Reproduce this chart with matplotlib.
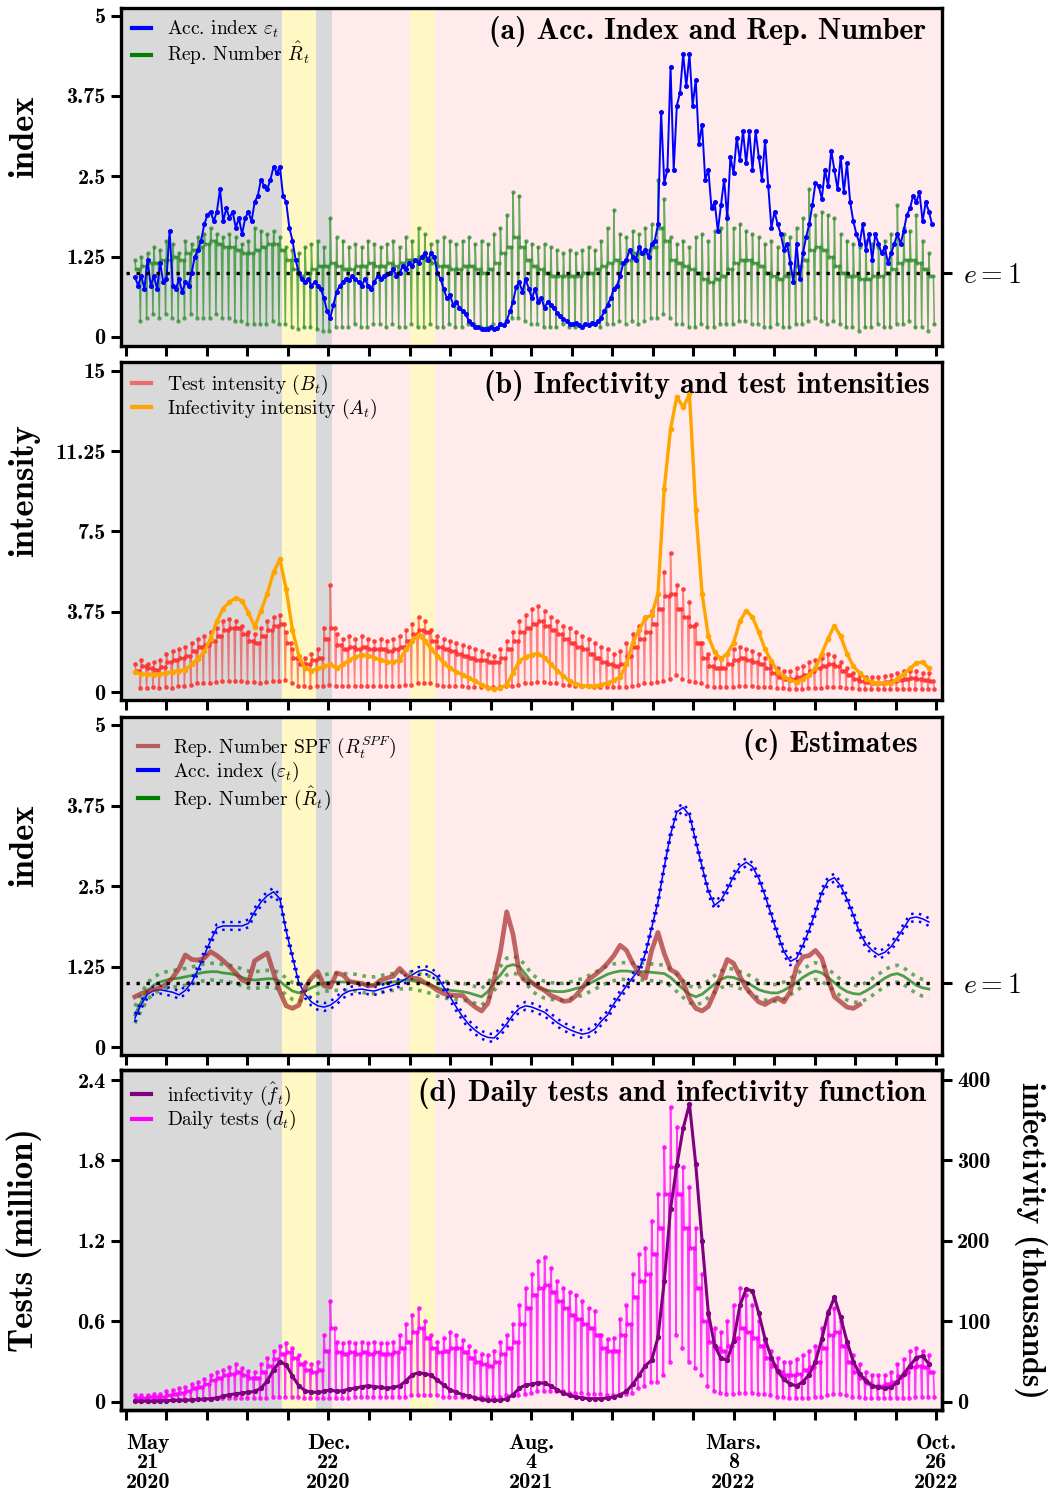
import numpy as np
import matplotlib
matplotlib.use("Agg")
import matplotlib.pyplot as plt
from matplotlib.lines import Line2D

plt.rcParams['font.family'] = ['cmr10', 'DejaVu Serif']
plt.rcParams['mathtext.fontset'] = 'cm'
plt.rcParams['axes.unicode_minus'] = False
plt.rcParams['axes.formatter.use_mathtext'] = True
BOLD = 'cmb10'

# ---------------- data (days since 21 May 2020) ----------------
tick_days = [-10 + 45 * k for k in range(21)]
tick_text = ['May\n21\n2020', 'Dec.\n22\n2020', 'Aug.\n4\n2021', 'Mars.\n8\n2022', 'Oct.\n26\n2022']
periods = [(-15.5, 163, 'gray'), (163, 201, 'yellow'), (201, 219, 'gray'),
           (219, 306, 'pink'), (306, 333, 'yellow'), (333, 896.5, 'pink')]

# (a) accumulation index, one value every half week
acc_index = [0.93, 0.8, 0.95, 0.75, 1.2, 0.8, 0.95, 0.75, 1.15, 0.85,
             0.9, 1.65, 0.8, 0.75, 0.9, 0.7, 0.85, 0.8, 1.0, 1.25,
             1.35, 1.5, 1.75, 1.9, 1.95, 1.8, 1.95, 2.3, 1.8, 2.0,
             1.85, 1.95, 1.7, 1.85, 1.6, 1.85, 1.95, 1.8, 2.1, 2.2,
             2.45, 2.35, 2.3, 2.45, 2.65, 2.55, 2.65, 2.2, 2.1, 1.7,
             1.5, 1.2, 1.0, 0.9, 0.85, 0.9, 0.8, 0.85, 0.8, 0.75,
             0.6, 0.4, 0.3, 0.5, 0.7, 0.8, 0.85, 0.9, 0.88, 0.95,
             0.9, 0.85, 0.8, 0.9, 0.8, 0.75, 0.85, 0.95, 0.9, 0.95,
             0.98, 1.0, 1.05, 0.95, 1.0, 1.1, 1.05, 1.15, 1.1, 1.2,
             1.15, 1.25, 1.3, 1.2, 1.3, 1.25, 1.0, 0.9, 0.75, 0.6,
             0.65, 0.5, 0.55, 0.45, 0.4, 0.35, 0.25, 0.2, 0.15, 0.15,
             0.12, 0.13, 0.12, 0.15, 0.13, 0.14, 0.2, 0.18, 0.25, 0.4,
             0.55, 0.78, 0.85, 0.7, 0.9, 0.75, 0.6, 0.75, 0.55, 0.6,
             0.45, 0.55, 0.5, 0.45, 0.38, 0.32, 0.28, 0.25, 0.2, 0.2,
             0.22, 0.18, 0.16, 0.2, 0.18, 0.22, 0.2, 0.25, 0.3, 0.4,
             0.5, 0.6, 0.75, 0.8, 0.95, 1.15, 1.2, 1.35, 1.25, 1.2,
             1.4, 1.3, 1.35, 1.25, 1.45, 1.5, 1.75, 3.5, 2.4, 2.6,
             4.2, 2.6, 3.6, 3.8, 4.4, 3.9, 4.4, 3.6, 4.0, 3.0,
             3.3, 2.45, 2.6, 2.0, 2.1, 1.65, 2.05, 2.45, 1.85, 2.8,
             2.55, 3.1, 2.75, 3.2, 2.7, 3.2, 2.6, 3.2, 2.8, 2.45,
             3.05, 2.35, 1.7, 1.95, 1.75, 1.6, 1.35, 1.45, 1.15, 0.85,
             1.45, 0.9, 1.3, 1.55, 1.75, 2.05, 2.4, 2.35, 2.15, 2.6,
             2.35, 2.9, 2.6, 2.3, 2.8, 2.25, 2.7, 2.1, 1.8, 1.6,
             1.45, 1.75, 1.35, 1.6, 1.2, 1.6, 1.45, 1.3, 1.4, 1.15,
             1.3, 1.45, 1.6, 1.45, 1.65, 1.9, 2.0, 2.2, 2.1, 2.25,
             1.8, 2.1, 1.95, 1.75]

# (a) reproduction number, weekly peak / usual level / dip
rep_peak = [1.2, 1.25, 1.3, 1.4, 1.35, 1.5, 1.45, 1.3, 1.5, 1.45,
            1.55, 1.6, 1.7, 1.6, 1.55, 1.6, 1.55, 1.45, 1.5, 1.7,
            1.65, 1.6, 1.65, 1.55, 1.4, 1.35, 1.3, 1.4, 1.45, 1.5,
            1.4, 1.85, 1.55, 1.5, 1.4, 1.45, 1.4, 1.5, 1.45, 1.4,
            1.45, 1.5, 1.4, 1.55, 1.5, 1.7, 1.6, 1.45, 1.5, 1.55,
            1.5, 1.45, 1.5, 1.55, 1.45, 1.5, 1.45, 1.6, 1.7, 1.9,
            2.25, 2.2, 1.5, 1.45, 1.4, 1.45, 1.4, 1.35, 1.3, 1.35,
            1.3, 1.35, 1.4, 1.35, 1.5, 1.7, 1.98, 1.6, 1.55, 1.65,
            1.6, 1.7, 1.75, 2.45, 2.15, 1.55, 1.45, 1.5, 1.4, 1.55,
            1.6, 1.5, 1.65, 1.7, 1.9, 1.7, 1.75, 1.65, 1.6, 1.55,
            1.45, 1.5, 1.4, 1.6, 1.55, 1.7, 1.85, 2.3, 1.9, 1.95,
            1.9, 1.85, 1.6, 1.5, 1.45, 1.4, 1.5, 1.45, 1.4, 1.5,
            1.6, 2.05, 1.7, 1.65, 1.9, 1.5, 1.3]
rep_level = [1.05, 1.1, 1.15, 1.15, 1.2, 1.2, 1.25, 1.2, 1.3, 1.35,
             1.4, 1.45, 1.5, 1.45, 1.4, 1.4, 1.35, 1.3, 1.3, 1.35,
             1.4, 1.45, 1.45, 1.35, 1.2, 1.05, 0.95, 1.0, 1.05, 1.1,
             1.1, 1.15, 1.1, 1.05, 1.05, 1.1, 1.1, 1.15, 1.1, 1.1,
             1.15, 1.1, 1.15, 1.2, 1.2, 1.25, 1.2, 1.15, 1.1, 1.1,
             1.05, 1.05, 1.1, 1.1, 1.05, 1.0, 1.05, 1.15, 1.3, 1.4,
             1.55, 1.4, 1.2, 1.1, 1.05, 1.0, 0.95, 0.95, 0.95, 0.95,
             0.95, 1.0, 1.0, 1.05, 1.1, 1.15, 1.2, 1.15, 1.2, 1.3,
             1.3, 1.35, 1.4, 1.7, 1.5, 1.2, 1.15, 1.1, 1.05, 1.0,
             0.9, 0.85, 0.9, 0.95, 1.05, 1.15, 1.2, 1.2, 1.15, 1.1,
             1.0, 0.95, 0.9, 0.95, 1.0, 1.1, 1.2, 1.35, 1.4, 1.35,
             1.25, 1.1, 1.0, 0.95, 0.95, 0.9, 0.9, 0.95, 0.95, 1.0,
             1.05, 1.15, 1.2, 1.2, 1.15, 1.05, 0.95]
rep_dip = [0.25, 0.3, 0.35, 0.3, 0.35, 0.3, 0.25, 0.3, 0.35, 0.3,
           0.3, 0.3, 0.35, 0.3, 0.3, 0.25, 0.25, 0.2, 0.2, 0.2,
           0.2, 0.25, 0.2, 0.2, 0.15, 0.12, 0.15, 0.15, 0.12, 0.1,
           0.1, 0.15, 0.15, 0.15, 0.2, 0.15, 0.15, 0.2, 0.2, 0.15,
           0.2, 0.15, 0.15, 0.2, 0.15, 0.15, 0.2, 0.15, 0.15, 0.2,
           0.15, 0.15, 0.2, 0.2, 0.15, 0.15, 0.2, 0.2, 0.25, 0.3,
           0.3, 0.25, 0.2, 0.2, 0.15, 0.15, 0.15, 0.2, 0.15, 0.15,
           0.15, 0.2, 0.2, 0.15, 0.2, 0.2, 0.25, 0.2, 0.25, 0.2,
           0.25, 0.3, 0.3, 0.35, 0.3, 0.2, 0.2, 0.15, 0.15, 0.2,
           0.15, 0.15, 0.2, 0.2, 0.2, 0.25, 0.25, 0.2, 0.2, 0.15,
           0.15, 0.2, 0.15, 0.15, 0.2, 0.2, 0.25, 0.3, 0.25, 0.2,
           0.25, 0.2, 0.15, 0.15, 0.1, 0.15, 0.15, 0.2, 0.15, 0.15,
           0.2, 0.2, 0.25, 0.15, 0.15, 0.1, 0.2]

# (b) test intensity, weekly peak / level / dip
test_peak = [1.3, 1.5, 1.3, 1.4, 1.5, 1.8, 1.9, 2.0, 2.1, 2.3,
             2.5, 2.6, 2.8, 3.0, 3.3, 3.4, 3.3, 3.1, 2.8, 2.7,
             3.0, 3.3, 3.5, 3.6, 2.8, 2.0, 1.7, 1.6, 1.8, 2.0,
             3.0, 5.0, 2.7, 2.5, 2.6, 2.5, 2.6, 2.5, 2.4, 2.5,
             2.4, 2.5, 2.6, 2.9, 3.2, 3.5, 3.3, 2.9, 2.6, 2.5,
             2.4, 2.3, 2.2, 2.1, 2.0, 1.9, 1.8, 1.7, 2.0, 2.4,
             2.8, 3.3, 3.6, 3.9, 4.0, 3.8, 3.5, 3.3, 3.1, 3.0,
             2.8, 2.6, 2.5, 2.3, 2.1, 2.0, 1.8, 1.9, 2.3, 2.7,
             3.1, 3.5, 3.8, 4.6, 5.6, 6.5, 5.0, 4.8, 4.2, 3.2,
             2.3, 1.8, 1.6, 1.6, 1.8, 2.0, 2.1, 2.0, 1.9, 1.8,
             1.6, 1.3, 1.1, 1.0, 1.0, 1.1, 1.2, 1.4, 1.5, 1.6,
             1.8, 1.7, 1.4, 1.1, 0.9, 0.8, 0.7, 0.7, 0.7, 0.75,
             0.8, 0.9, 1.0, 1.0, 1.0, 0.9, 0.9]
test_level = [1.0, 1.2, 1.1, 1.05, 1.15, 1.4, 1.5, 1.6, 1.7, 1.9,
              2.1, 2.2, 2.4, 2.6, 2.9, 3.0, 3.0, 2.7, 2.4, 2.3,
              2.6, 2.9, 3.1, 3.2, 2.3, 1.6, 1.3, 1.3, 1.5, 1.6,
              2.5, 3.0, 2.2, 2.0, 2.1, 2.0, 2.1, 2.0, 2.0, 2.0,
              1.9, 2.0, 2.1, 2.4, 2.7, 2.9, 2.8, 2.4, 2.1, 2.0,
              1.9, 1.8, 1.7, 1.6, 1.5, 1.5, 1.4, 1.4, 1.6, 2.0,
              2.4, 2.8, 3.0, 3.2, 3.3, 3.1, 2.9, 2.7, 2.5, 2.3,
              2.1, 2.0, 1.8, 1.6, 1.4, 1.3, 1.2, 1.3, 1.7, 2.1,
              2.5, 2.8, 3.2, 3.9, 4.5, 4.6, 3.9, 3.5, 3.1, 2.3,
              1.6, 1.2, 1.1, 1.1, 1.3, 1.5, 1.6, 1.5, 1.4, 1.3,
              1.1, 0.9, 0.7, 0.6, 0.6, 0.7, 0.8, 1.0, 1.1, 1.2,
              1.3, 1.2, 1.0, 0.8, 0.6, 0.5, 0.45, 0.4, 0.4, 0.45,
              0.5, 0.55, 0.6, 0.65, 0.6, 0.55, 0.5]
test_dip = [0.2, 0.2, 0.25, 0.2, 0.25, 0.2, 0.3, 0.3, 0.35, 0.4,
            0.4, 0.4, 0.45, 0.5, 0.5, 0.5, 0.5, 0.45, 0.45, 0.4,
            0.45, 0.5, 0.5, 0.55, 0.4, 0.3, 0.3, 0.25, 0.3, 0.3,
            0.35, 0.3, 0.3, 0.3, 0.3, 0.3, 0.3, 0.3, 0.3, 0.3,
            0.3, 0.3, 0.35, 0.35, 0.4, 0.4, 0.4, 0.35, 0.3, 0.3,
            0.3, 0.3, 0.25, 0.25, 0.25, 0.25, 0.25, 0.25, 0.3, 0.3,
            0.35, 0.4, 0.4, 0.45, 0.45, 0.4, 0.4, 0.35, 0.35, 0.3,
            0.3, 0.3, 0.25, 0.25, 0.25, 0.25, 0.25, 0.25, 0.3, 0.35,
            0.4, 0.4, 0.45, 0.5, 0.6, 0.8, 0.6, 0.5, 0.45, 0.4,
            0.3, 0.25, 0.25, 0.25, 0.25, 0.3, 0.3, 0.3, 0.25, 0.25,
            0.25, 0.2, 0.2, 0.15, 0.15, 0.15, 0.2, 0.2, 0.2, 0.25,
            0.25, 0.25, 0.2, 0.2, 0.15, 0.15, 0.12, 0.12, 0.12, 0.12,
            0.15, 0.15, 0.15, 0.15, 0.15, 0.15, 0.15]

# (b) infectivity intensity, weekly
infect_int = [0.93, 0.85, 0.82, 0.8, 0.85, 0.9, 0.95, 1.0, 1.05, 1.3,
              1.55, 1.9, 2.5, 3.3, 3.9, 4.2, 4.4, 4.25, 3.7, 3.05,
              3.8, 4.6, 5.6, 6.2, 4.8, 2.9, 1.7, 1.1, 1.0, 1.1,
              1.2, 1.3, 1.1, 1.3, 1.5, 1.65, 1.72, 1.7, 1.6, 1.5,
              1.4, 1.4, 1.5, 2.0, 2.4, 2.65, 2.4, 2.0, 1.7, 1.35,
              1.1, 0.95, 0.8, 0.65, 0.5, 0.35, 0.2, 0.15, 0.2, 0.35,
              0.9, 1.45, 1.65, 1.75, 1.8, 1.6, 1.3, 1.0, 0.75, 0.5,
              0.38, 0.3, 0.28, 0.28, 0.35, 0.42, 0.55, 0.7, 1.3, 2.3,
              2.9, 3.45, 3.6, 4.6, 9.5, 12.3, 13.8, 13.3, 13.9, 8.5,
              4.6, 2.6, 1.85, 1.55, 1.8, 2.3, 3.3, 3.8, 3.5, 2.8,
              2.0, 1.45, 0.95, 0.7, 0.55, 0.47, 0.6, 0.8, 1.1, 1.8,
              2.5, 3.1, 2.6, 1.8, 1.2, 0.9, 0.6, 0.45, 0.42, 0.42,
              0.42, 0.6, 0.85, 1.1, 1.35, 1.4, 1.1]

# (c) smoothed estimates, weekly
est_acc = [0.45, 0.66, 0.82, 0.88, 0.89, 0.87, 0.85, 0.81, 0.88, 1.0,
           1.2, 1.43, 1.65, 1.85, 1.88, 1.88, 1.88, 1.88, 1.92, 2.1,
           2.25, 2.35, 2.41, 2.3, 1.8, 1.4, 1.0, 0.82, 0.7, 0.64,
           0.62, 0.65, 0.72, 0.82, 0.87, 0.89, 0.9, 0.88, 0.87, 0.9,
           0.93, 0.96, 1.0, 1.06, 1.12, 1.18, 1.2, 1.16, 1.09, 0.93,
           0.78, 0.62, 0.47, 0.35, 0.26, 0.19, 0.15, 0.14, 0.24, 0.36,
           0.5, 0.6, 0.64, 0.62, 0.58, 0.54, 0.46, 0.38, 0.32, 0.27,
           0.23, 0.2, 0.22, 0.28, 0.4, 0.5, 0.67, 0.81, 0.95, 1.08,
           1.2, 1.45, 1.85, 2.25, 2.8, 3.3, 3.65, 3.72, 3.6, 3.2,
           2.8, 2.42, 2.2, 2.28, 2.45, 2.65, 2.8, 2.87, 2.8, 2.62,
           2.35, 2.05, 1.75, 1.48, 1.33, 1.38, 1.58, 1.82, 2.1, 2.4,
           2.58, 2.63, 2.5, 2.3, 2.05, 1.78, 1.6, 1.5, 1.43, 1.47,
           1.56, 1.7, 1.85, 2.0, 2.02, 1.99, 1.94]
est_acc_halfwidth = 0.06
est_rep = [0.5, 0.7, 0.87, 0.96, 1.01, 1.04, 1.06, 1.07, 1.09, 1.11,
           1.14, 1.16, 1.17, 1.17, 1.15, 1.14, 1.12, 1.08, 1.05, 1.04,
           1.05, 1.06, 1.06, 1.02, 0.94, 0.87, 0.84, 0.87, 0.92, 0.96,
           0.99, 1.01, 1.01, 1.01, 1.01, 1.0, 0.98, 0.96, 0.96, 0.98,
           1.0, 1.01, 1.03, 1.04, 1.03, 1.01, 0.99, 0.96, 0.92, 0.89,
           0.88, 0.87, 0.86, 0.84, 0.81, 0.78, 0.86, 1.01, 1.12, 1.25,
           1.28, 1.25, 1.13, 1.0, 0.93, 0.89, 0.87, 0.86, 0.86, 0.88,
           0.91, 0.93, 0.98, 1.03, 1.08, 1.13, 1.16, 1.18, 1.18, 1.17,
           1.17, 1.17, 1.16, 1.15, 1.14, 1.08, 0.99, 0.9, 0.82, 0.78,
           0.82, 0.9, 0.98, 1.05, 1.09, 1.08, 1.04, 1.01, 0.95, 0.89,
           0.86, 0.84, 0.84, 0.88, 0.94, 1.0, 1.08, 1.14, 1.18, 1.15,
           1.08, 1.0, 0.92, 0.86, 0.83, 0.82, 0.87, 0.93, 1.0, 1.07,
           1.12, 1.14, 1.1, 1.03, 0.96, 0.92, 0.9]
est_rep_halfwidth = 0.13
est_spf = [0.78, 0.83, 0.87, 0.89, 0.92, 0.98, 1.08, 1.22, 1.43, 1.36,
           1.35, 1.38, 1.48, 1.42, 1.34, 1.25, 1.15, 1.04, 1.0, 1.34,
           1.4, 1.46, 1.15, 0.86, 0.64, 0.6, 0.65, 0.92, 1.07, 1.17,
           0.95, 0.93, 1.15, 1.12, 1.02, 1.0, 0.99, 0.95, 0.96, 1.04,
           1.07, 1.1, 1.22, 1.12, 1.07, 1.06, 1.0, 0.95, 0.88, 0.83,
           0.81, 0.8, 0.8, 0.7, 0.62, 0.56, 0.68, 1.05, 1.48, 2.1,
           1.75, 1.15, 1.03, 1.0, 0.93, 0.88, 0.8, 0.76, 0.71, 0.72,
           0.8, 0.92, 1.05, 1.12, 1.2, 1.3, 1.42, 1.58, 1.5, 1.3,
           1.15, 1.07, 1.5, 1.78, 1.45, 1.2, 1.15, 1.0, 0.75, 0.6,
           0.56, 0.63, 0.85, 1.1, 1.36, 1.3, 1.1, 0.92, 0.8, 0.7,
           0.66, 0.72, 0.76, 0.7, 0.86, 1.25, 1.4, 1.42, 1.5, 1.38,
           1.05, 0.78, 0.7, 0.62, 0.6, 0.66]

# (d) daily tests (million), weekly peak / level / dip
tests_peak = [0.05, 0.05, 0.05, 0.06, 0.06, 0.08, 0.09, 0.1, 0.11, 0.13,
              0.15, 0.17, 0.2, 0.22, 0.24, 0.26, 0.28, 0.25, 0.23, 0.22,
              0.28, 0.33, 0.38, 0.42, 0.44, 0.4, 0.35, 0.3, 0.28, 0.3,
              0.5, 0.75, 0.45, 0.44, 0.45, 0.44, 0.45, 0.44, 0.45, 0.44,
              0.44, 0.45, 0.5, 0.58, 0.65, 0.7, 0.6, 0.5, 0.45, 0.48,
              0.52, 0.5, 0.46, 0.42, 0.38, 0.36, 0.35, 0.38, 0.45, 0.5,
              0.58, 0.72, 0.85, 0.95, 1.05, 1.08, 1.0, 0.9, 0.85, 0.82,
              0.8, 0.75, 0.7, 0.68, 0.5, 0.47, 0.48, 0.62, 0.72, 0.95,
              1.1, 1.15, 1.35, 1.55, 1.9, 2.2, 2.05, 1.75, 1.6, 1.3,
              0.95, 0.65, 0.55, 0.52, 0.6, 0.72, 0.85, 0.8, 0.72, 0.6,
              0.45, 0.38, 0.33, 0.3, 0.3, 0.32, 0.35, 0.38, 0.42, 0.55,
              0.68, 0.7, 0.6, 0.45, 0.35, 0.28, 0.22, 0.2, 0.2, 0.2,
              0.22, 0.28, 0.32, 0.38, 0.4, 0.38, 0.35]
tests_level = [0.03, 0.03, 0.035, 0.04, 0.04, 0.05, 0.06, 0.07, 0.08, 0.1,
               0.11, 0.13, 0.16, 0.18, 0.2, 0.21, 0.22, 0.2, 0.18, 0.18,
               0.22, 0.27, 0.32, 0.36, 0.37, 0.33, 0.28, 0.24, 0.22, 0.24,
               0.38, 0.55, 0.37, 0.36, 0.37, 0.36, 0.37, 0.36, 0.37, 0.36,
               0.36, 0.37, 0.4, 0.45, 0.52, 0.55, 0.48, 0.4, 0.37, 0.38,
               0.4, 0.4, 0.37, 0.33, 0.3, 0.28, 0.27, 0.3, 0.36, 0.4,
               0.45, 0.58, 0.7, 0.8, 0.85, 0.87, 0.82, 0.75, 0.7, 0.65,
               0.62, 0.58, 0.55, 0.5, 0.4, 0.38, 0.38, 0.5, 0.58, 0.78,
               0.9, 0.95, 1.1, 1.3, 1.55, 1.75, 1.55, 1.3, 1.15, 0.85,
               0.6, 0.45, 0.4, 0.38, 0.42, 0.48, 0.55, 0.52, 0.48, 0.42,
               0.33, 0.27, 0.22, 0.2, 0.2, 0.21, 0.24, 0.26, 0.3, 0.4,
               0.5, 0.52, 0.42, 0.3, 0.22, 0.18, 0.14, 0.12, 0.12, 0.13,
               0.15, 0.19, 0.22, 0.26, 0.27, 0.26, 0.22]
tests_dip = [0.01, 0.01, 0.01, 0.01, 0.01, 0.015, 0.015, 0.02, 0.02, 0.02,
             0.02, 0.02, 0.03, 0.03, 0.03, 0.03, 0.03, 0.03, 0.03, 0.03,
             0.03, 0.04, 0.04, 0.04, 0.04, 0.04, 0.03, 0.03, 0.03, 0.03,
             0.03, 0.03, 0.03, 0.03, 0.04, 0.04, 0.04, 0.04, 0.04, 0.04,
             0.04, 0.04, 0.04, 0.05, 0.05, 0.05, 0.05, 0.05, 0.04, 0.04,
             0.04, 0.04, 0.04, 0.04, 0.04, 0.04, 0.04, 0.04, 0.05, 0.05,
             0.05, 0.06, 0.07, 0.08, 0.08, 0.08, 0.08, 0.08, 0.07, 0.07,
             0.07, 0.06, 0.06, 0.06, 0.05, 0.05, 0.05, 0.06, 0.07, 0.1,
             0.12, 0.15, 0.15, 0.2, 0.3, 0.5, 0.4, 0.3, 0.25, 0.2,
             0.12, 0.08, 0.07, 0.06, 0.06, 0.07, 0.07, 0.07, 0.06, 0.06,
             0.05, 0.04, 0.04, 0.03, 0.03, 0.03, 0.03, 0.04, 0.04, 0.05,
             0.06, 0.06, 0.05, 0.04, 0.04, 0.03, 0.03, 0.03, 0.03, 0.03,
             0.03, 0.03, 0.03, 0.04, 0.04, 0.04, 0.04]

# (d) infectivity function (thousands), weekly
infectivity = [1, 1, 1, 1, 1.5, 1.5, 2, 2, 2, 2.5,
               3, 3.5, 4, 5, 7, 9, 10, 11, 12, 13,
               17, 26, 40, 50, 46, 32, 20, 14, 12, 12,
               13, 15, 13, 14, 16, 17, 19, 20, 19, 18,
               17, 18, 20, 26, 34, 36, 35, 33, 27, 21,
               15, 12, 9, 7, 5, 3, 2, 2, 2, 4,
               9, 17, 21, 22, 24, 23, 20, 15, 11, 8,
               6, 5, 4, 4, 4, 5, 6, 9, 13, 22,
               33, 45, 52, 80, 150, 240, 294, 340, 370, 295,
               200, 110, 70, 54, 52, 76, 120, 140, 138, 110,
               78, 55, 38, 28, 22, 20, 25, 34, 50, 78,
               110, 130, 105, 75, 50, 35, 26, 20, 18, 17,
               18, 25, 35, 45, 55, 57, 47]

# ---------------- helpers ----------------
BG = {'gray': '#d9d9d9', 'yellow': '#fff7c4', 'pink': '#ffebeb'}
TICK_FS = 16
LEG_FS = 14
TITLE_FS = 21.5
YLAB_FS = 25


def weekly_days(values):
    return 7.0 * np.arange(len(values))


def weekly_cycle(peak, level, dip):
    xs, ys = [], []
    for w, (p, l, d) in enumerate(zip(peak, level, dip)):
        xs += [7 * w, 7 * w + 1, 7 * w + 5, 7 * w + 6]
        ys += [p, l, l, d]
    return np.array(xs, float), np.array(ys, float)


def style_axis(ax, ylim, yticks, ylabels, show_x=False):
    for (a, b, c) in periods:
        ax.axvspan(a, b, color=BG[c], lw=0, zorder=0)
    ax.set_xlim(-15.5, 896.5)
    ax.set_ylim(*ylim)
    ax.set_yticks(yticks)
    ax.set_yticklabels(ylabels, fontfamily=BOLD, fontsize=TICK_FS)
    ax.set_xticks(tick_days)
    if show_x:
        labs = [''] * 21
        for i, t in zip([0, 5, 10, 15, 20], tick_text):
            labs[i] = t
        ax.set_xticklabels(labs, fontfamily=BOLD, fontsize=TICK_FS, linespacing=1.05)
        first = ax.get_xticklabels()[0]
        first.set_horizontalalignment('left')
        first.set_multialignment('center')
    else:
        ax.set_xticklabels([])
    ax.tick_params(direction='out', width=2.2, length=7, pad=4)
    ax.tick_params(axis='x', pad=10)
    for s in ax.spines.values():
        s.set_linewidth(2.4)


def e_one(ax):
    ax.hlines(1, tick_days[0], tick_days[-1], colors='k', linestyles=(0, (1, 2)),
              lw=2.4, zorder=5)
    r = ax.twinx()
    r.set_ylim(ax.get_ylim())
    r.set_yticks([1])
    r.set_yticklabels(['$e=1$'], fontsize=20)
    r.tick_params(direction='out', width=2.2, length=7, pad=8)
    for s in r.spines.values():
        s.set_visible(False)
    return r


def title(ax, txt, x=0.98, y=0.975):
    ax.text(x, y, txt, transform=ax.transAxes, ha='right', va='top',
            fontfamily=BOLD, fontsize=TITLE_FS, zorder=10)


def legend(ax, handles, labels, pad=0.2):
    ax.legend(handles=handles, labels=labels, loc='upper left', frameon=False,
              fontsize=LEG_FS, handlelength=1.0, handletextpad=0.8,
              labelspacing=0.0, borderaxespad=pad)


def ylab(ax, txt, y=0.62, x=-0.099):
    ax.set_ylabel(txt, fontfamily=BOLD, fontsize=YLAB_FS)
    ax.yaxis.set_label_coords(x, y)


fig = plt.figure(figsize=(10.54, 14.95), dpi=100)
L, W, H = 0.1148, 0.7789, 0.2261
axA = fig.add_axes([L, 0.7686, W, H])
axB = fig.add_axes([L, 0.5318, W, H])
axC = fig.add_axes([L, 0.2943, W, H])
axD = fig.add_axes([L, 0.0569, W, 0.2274])

idx = [0, 1.25, 2.5, 3.75, 5]
idx_l = ['0', '1.25', '2.5', '3.75', '5']

# ---------------- (a) ----------------
style_axis(axA, (-0.14, 5.12), idx, idx_l)
gx, gy = weekly_cycle(rep_peak, rep_level, rep_dip)
axA.plot(gx, gy, color='green', lw=1.1, alpha=0.6, marker='o', ms=2.2,
         mfc='#2e8b2e', mec='#2e8b2e', zorder=2)
ax_days = 3.5 * np.arange(len(acc_index))
axA.plot(ax_days, acc_index, color='blue', lw=1.4, marker='o', ms=2.6, zorder=3)
e_one(axA)
ylab(axA, 'index')
legend(axA, [Line2D([], [], color='blue', lw=3), Line2D([], [], color='green', lw=3)],
       [r'Acc. index $\varepsilon_t$', r'Rep. Number $\hat{R}_t$'], pad=0.15)
title(axA, '(a) Acc. Index and Rep. Number')

# ---------------- (b) ----------------
style_axis(axB, (-0.37, 15.42), [0, 3.75, 7.5, 11.25, 15],
           ['0', '3.75', '7.5', '11.25', '15'])
bx, by = weekly_cycle(test_peak, test_level, test_dip)
axB.plot(bx, by, color='red', lw=1.1, alpha=0.45, zorder=2)
axB.plot(bx, by, ls='none', marker='o', ms=2.4, color='#ff3030', alpha=0.8, zorder=2)
axB.plot(weekly_days(infect_int), infect_int, color='orange', lw=2.4, marker='o',
         ms=3, zorder=3)
ylab(axB, 'intensity')
legend(axB, [Line2D([], [], color='red', alpha=0.5, lw=3), Line2D([], [], color='orange', lw=3)],
       [r'Test intensity $(B_t)$', r'Infectivity intensity $(A_t)$'], pad=0.15)
title(axB, '(b) Infectivity and test intensities', x=0.985)

# ---------------- (c) ----------------
style_axis(axC, (-0.124, 5.124), idx, idx_l)
cd = weekly_days(est_acc)
ea = np.array(est_acc)
er = np.array(est_rep)
axC.plot(cd, er, color='green', lw=2, alpha=0.7, zorder=2)
axC.plot(cd, er + est_rep_halfwidth, color='green', lw=2.6, alpha=0.6,
         ls=(0, (1, 1.6)), zorder=2)
axC.plot(cd, er - est_rep_halfwidth, color='green', lw=2.6, alpha=0.6,
         ls=(0, (1, 1.6)), zorder=2)
axC.plot(cd, ea, color='blue', lw=1.1, zorder=3)
axC.plot(cd, ea + est_acc_halfwidth, color='blue', lw=1.8, ls=(0, (1, 2.2)), zorder=3)
axC.plot(cd, ea - est_acc_halfwidth, color='blue', lw=1.8, ls=(0, (1, 2.2)), zorder=3)
axC.plot(weekly_days(est_spf), est_spf, color='brown', alpha=0.7, lw=3.4, zorder=4)
e_one(axC)
ylab(axC, 'index')
legend(axC, [Line2D([], [], color='brown', alpha=0.7, lw=3),
             Line2D([], [], color='blue', lw=3),
             Line2D([], [], color='green', lw=3)],
       [r'Rep. Number SPF $(R_t^{SPF})$', r'Acc. index $(\varepsilon_t)$',
        r'Rep. Number $(\hat{R}_t)$'], pad=0.5)
title(axC, '(c) Estimates', x=0.97, y=0.965)

# ---------------- (d) ----------------
style_axis(axD, (-0.06, 2.475), [0, 0.6, 1.2, 1.8, 2.4],
           ['0', '0.6', '1.2', '1.8', '2.4'], show_x=True)
tx, ty = weekly_cycle(tests_peak, tests_level, tests_dip)
axD.plot(tx, ty, color='magenta', lw=1.2, alpha=0.75, marker='o', ms=2.4, zorder=2)
ylab(axD, 'Tests (million)', y=0.5, x=-0.096)
axR = axD.twinx()
axR.set_ylim(-10, 412.4)
axR.set_yticks([0, 100, 200, 300, 400])
axR.set_yticklabels(['0', '100', '200', '300', '400'], fontfamily=BOLD, fontsize=TICK_FS)
axR.tick_params(direction='out', width=2.2, length=7, pad=4)
for s in axR.spines.values():
    s.set_linewidth(2.4)
axR.plot(weekly_days(infectivity), infectivity, color='purple', lw=2.2,
         marker='o', ms=2.8, zorder=3)
axR.set_ylabel('infectivity (thousands)', fontfamily=BOLD, fontsize=23,
               rotation=270, va='bottom', rotation_mode='anchor')
axR.yaxis.set_label_coords(1.088, 0.5)
legend(axR, [Line2D([], [], color='purple', lw=3), Line2D([], [], color='magenta', lw=3)],
       [r'infectivity $(\hat{f}_t)$', r'Daily tests $(d_t)$'], pad=0.15)
title(axR, '(d) Daily tests and infectivity function')

fig.savefig('out.png', dpi=100)
